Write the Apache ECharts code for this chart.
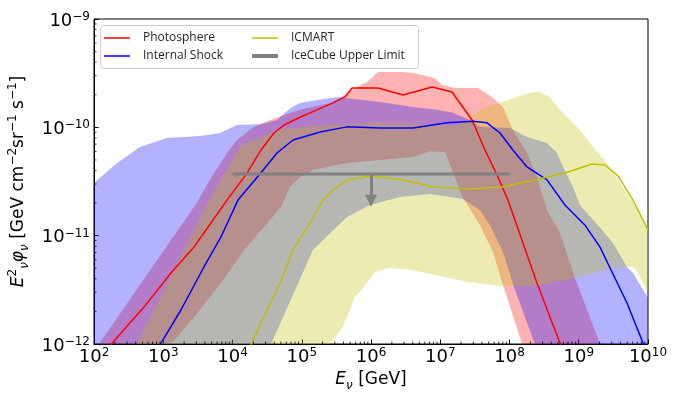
<!DOCTYPE html>
<html><head><meta charset="utf-8">
<script src="https://cdn.jsdelivr.net/npm/echarts@6/dist/echarts.min.js"></script>
<style>html,body{margin:0;padding:0;background:#fff}#c{width:675px;height:398px}</style>
</head><body><div id="c"></div>
<script>
// ---------- axis ranges / ticks ----------
const xMin = 1e2, xMax = 1e10;
const yMin = 1e-12, yMax = 1e-9;
const minorMultipliers = [2, 3, 4, 5, 6, 7, 8, 9];
const xDecades = [2, 3, 4, 5, 6, 7, 8, 9];
const yDecades = [-12, -11, -10];

// ---------- median lines [E (GeV), E^2 phi] ----------
const photosphere = [
  [1e2, 6.6e-13], [5.27e2, 2.19e-12], [1.29e3, 4.52e-12], [2.78e3, 7.85e-12],
  [8.34e3, 2.13e-11], [1.62e4, 3.78e-11], [2.58e4, 6.18e-11], [3.97e4, 8.87e-11],
  [5.55e4, 1.05e-10], [9.44e4, 1.24e-10], [1.66e5, 1.45e-10], [2.82e5, 1.68e-10],
  [4.22e5, 1.91e-10], [5.32e5, 2.31e-10], [1.26e6, 2.31e-10], [2.90e6, 1.99e-10],
  [7.60e6, 2.36e-10], [1.48e7, 2.12e-10], [2.88e7, 1.17e-10], [4.43e7, 6.18e-11],
  [6.82e7, 3.48e-11], [9.51e7, 2.13e-11], [2.49e8, 3.66e-12], [5.36e8, 1.02e-12],
  [8.53e8, 4.65e-13]
];
const internalShock = [
  [4.47e2, 4.65e-13], [9.29e2, 1.02e-12], [1.80e3, 2.06e-12], [3.87e3, 5.14e-12],
  [6.82e3, 9.73e-12], [1.20e4, 2.13e-11], [2.49e4, 3.71e-11], [4.40e4, 5.79e-11],
  [7.48e4, 7.64e-11], [1.84e5, 9.06e-11], [4.50e5, 1.01e-10], [1.35e6, 9.86e-11],
  [4.04e6, 9.86e-11], [1.25e7, 1.10e-10], [2.97e7, 1.14e-10], [4.73e7, 1.10e-10],
  [7.29e7, 8.87e-11], [1.12e8, 6.18e-11], [1.79e8, 4.31e-11], [3.48e8, 3.27e-11],
  [6.32e8, 1.92e-11], [1.23e9, 1.25e-11], [2.03e9, 7.85e-12], [3.02e9, 4.62e-12],
  [4.98e9, 2.39e-12], [8.47e9, 1.02e-12], [1e10, 7.74e-13]
];
const icmart = [
  [1.57e4, 7.74e-13], [1.91e4, 1.02e-12], [3.15e4, 2.06e-12], [4.85e4, 3.66e-12],
  [7.48e4, 7.38e-12], [1.32e5, 1.31e-11], [2.03e5, 2.13e-11], [2.82e5, 2.64e-11],
  [4.50e5, 3.27e-11], [1.03e6, 3.56e-11], [2.81e6, 3.27e-11], [8.39e6, 2.81e-11],
  [2.52e7, 2.70e-11], [7.80e7, 2.81e-11], [2.33e8, 3.27e-11], [7.00e8, 3.87e-11],
  [1.55e9, 4.59e-11], [2.39e9, 4.49e-11], [3.69e9, 3.56e-11], [6.07e9, 2.13e-11],
  [1e10, 1.13e-11]
];
const icecubeLimit = [[1e4, 3.71e-11], [1e8, 3.71e-11]];
const icecubeArrow = [[1e6, 3.71e-11], [1e6, 2.1e-11]];

// ---------- uncertainty bands ----------
const photoBandUpper = [
  [1.18e2, 1e-12], [2.97e3, 1.96e-11], [5.41e3, 3.78e-11], [8.34e3, 5.79e-11],
  [1.16e4, 7.64e-11], [2.04e4, 1.01e-10], [3.60e4, 1.17e-10], [5.55e4, 1.30e-10],
  [9.44e4, 1.45e-10], [2.56e5, 1.68e-10], [3.56e5, 1.87e-10], [4.50e5, 2.07e-10],
  [6.28e5, 2.36e-10], [8.75e5, 2.62e-10], [1.07e6, 2.92e-10], [1.26e6, 3.24e-10],
  [2.81e6, 3.24e-10], [4.04e6, 3.18e-10], [8.39e6, 2.85e-10], [1.06e7, 2.46e-10],
  [1.63e7, 2.31e-10], [3.51e7, 2.31e-10], [5.58e7, 1.91e-10], [8.05e7, 1.54e-10],
  [1.12e8, 9.44e-11], [1.79e8, 5.79e-11], [2.49e8, 3.48e-11], [3.48e8, 1.73e-11],
  [5.36e8, 1.06e-11], [8.83e8, 4.06e-12], [2.03e9, 1e-12]
];
const photoBandLower = [
  [1.29e3, 1e-12], [2.78e3, 1.77e-12], [6.82e3, 3.66e-12], [1.47e4, 7.38e-12],
  [2.85e4, 1.20e-11], [5.01e4, 1.84e-11], [6.76e4, 2.81e-11], [9.44e4, 3.48e-11],
  [1.45e5, 4.04e-11], [4.50e5, 4.69e-11], [1.35e6, 4.99e-11], [4.04e6, 5.32e-11],
  [7.11e6, 6.0e-11], [1.17e7, 5.92e-11], [2.13e7, 2.23e-11], [3.75e7, 1.25e-11],
  [5.78e7, 7.06e-12], [7.80e7, 3.73e-12], [1.52e8, 1e-12]
];
const shockBandUpper = [
  [1e2, 3.06e-11], [2.15e2, 4.69e-11], [4.61e2, 6.58e-11], [1.13e3, 7.98e-11],
  [3.40e3, 8.32e-11], [6.59e3, 8.87e-11], [1.16e4, 1.05e-10], [2.49e4, 1.07e-10],
  [4.40e4, 1.17e-10], [5.73e4, 1.36e-10], [7.23e4, 1.54e-10], [9.44e4, 1.68e-10],
  [1.66e5, 1.79e-10], [3.23e5, 1.91e-10], [7.66e5, 1.79e-10], [1.35e6, 1.71e-10],
  [4.04e6, 1.54e-10], [8.98e6, 1.45e-10], [1.53e7, 1.36e-10], [2.52e7, 1.19e-10],
  [3.75e7, 1.01e-10], [1.02e8, 9.86e-11], [1.79e8, 8.15e-11], [2.49e8, 7.64e-11],
  [3.48e8, 7.16e-11], [4.85e8, 5.79e-11], [5.93e8, 4.31e-11], [8.26e8, 2.81e-11],
  [1.04e9, 1.92e-11], [2.17e9, 1.13e-11], [3.13e9, 8.55e-12], [4.36e9, 5.96e-12],
  [4.98e9, 5.14e-12], [6.07e9, 4.52e-12], [1e10, 2.66e-12], [1e10, 1e-12]
];
const shockBandLower = [
  [1e2, 1e-12], [3.60e4, 1e-12], [5.55e4, 1.85e-12], [1.45e5, 7.38e-12],
  [4.50e5, 1.49e-11], [9.68e5, 1.92e-11], [2.62e6, 2.28e-11], [7.11e6, 2.43e-11],
  [2.13e7, 2.18e-11], [3.75e7, 1.73e-11], [5.22e7, 1.25e-11], [8.05e7, 7.06e-12],
  [1.20e8, 3.15e-12], [2.33e8, 1e-12]
];
const icmartBandUpper = [
  [4.18e2, 1e-12], [4.58e3, 2.13e-11], [1.33e4, 6.87e-11], [2.04e4, 7.64e-11],
  [5.19e4, 9.66e-11], [2.56e5, 1.05e-10], [1.35e6, 1.10e-10], [7.11e6, 1.07e-10],
  [1.63e7, 1.03e-10], [2.52e7, 1.17e-10], [3.75e7, 1.45e-10], [5.78e7, 1.61e-10],
  [8.05e7, 1.71e-10], [1.28e8, 1.91e-10], [2.18e8, 2.12e-10], [2.75e8, 2.12e-10],
  [3.85e8, 1.91e-10], [5.36e8, 1.45e-10], [7.48e8, 1.17e-10], [1.04e9, 9.44e-11],
  [1.61e9, 6.58e-11], [2.56e9, 4.69e-11], [3.94e9, 3.06e-11], [6.07e9, 2.00e-11],
  [1e10, 1.18e-11]
];
const icmartBandLower = [
  [2.56e5, 1e-12], [3.94e5, 1.44e-12], [5.87e5, 2.72e-12], [8.75e5, 3.66e-12],
  [1.14e6, 4.62e-12], [1.88e6, 5.02e-12], [3.91e6, 4.82e-12], [8.39e6, 4.34e-12],
  [2.52e7, 3.73e-12], [7.80e7, 3.43e-12], [2.33e8, 3.43e-12], [7.48e8, 3.98e-12],
  [2.17e9, 4.72e-12], [4.66e9, 5.25e-12], [6.48e9, 5.02e-12], [1e10, 3.02e-12]
];

const legendCol1 = ['Photosphere', 'Internal Shock'];
const legendCol2 = ['ICMART', 'IceCube Upper Limit'];

// ---------- helpers ----------
const FONT = 'DejaVu Sans';
function powLabel(v) {
  const e = Math.round(Math.log10(v));
  return '{b|10}{s|' + (e < 0 ? '\u2212' : '') + Math.abs(e) + '}';
}
const tickRich = {
  b: { fontFamily: FONT, fontSize: 18, lineHeight: 20, color: '#000' },
  s: { fontFamily: FONT, fontSize: 12, lineHeight: 9, verticalAlign: 'top', color: '#000' }
};
const nameRich = {
  i: { fontFamily: FONT, fontStyle: 'italic', fontSize: 17, lineHeight: 24, color: '#000' },
  n: { fontFamily: FONT, fontSize: 17, lineHeight: 24, color: '#000' },
  sup: { fontFamily: FONT, fontSize: 12, lineHeight: 12, verticalAlign: 'top', color: '#000' },
  sub: { fontFamily: FONT, fontStyle: 'italic', fontSize: 12, lineHeight: 12, verticalAlign: 'bottom', color: '#000' }
};

function bandSeries(name, upper, lower, color, z) {
  const poly = upper.concat(lower.slice().reverse());
  return {
    type: 'custom', name: name, z: z, clip: true, silent: true,
    data: [poly[0]],
    renderItem: function (params, api) {
      const pts = poly.map(function (p) { return api.coord(p); });
      return { type: 'polygon', shape: { points: pts }, style: { fill: color } };
    }
  };
}

const xMinor = [];
xDecades.forEach(function (d) { minorMultipliers.forEach(function (m) { xMinor.push([m * Math.pow(10, d), yMin]); }); });
const yMinor = [];
yDecades.forEach(function (d) { minorMultipliers.forEach(function (m) { yMinor.push([xMin, m * Math.pow(10, d)]); }); });

function minorTickSeries(data, horizontal) {
  return {
    type: 'custom', silent: true, z: 6, clip: false, data: data,
    renderItem: function (params, api) {
      const p = api.coord([api.value(0), api.value(1)]);
      const shape = horizontal
        ? { x1: p[0], y1: p[1], x2: p[0], y2: p[1] - 2.5 }
        : { x1: p[0], y1: p[1], x2: p[0] + 2.5, y2: p[1] };
      return { type: 'line', shape: shape, style: { stroke: '#000', lineWidth: 0.8 } };
    }
  };
}

function lineSeries(name, data, color, width) {
  return {
    type: 'line', name: name, data: data, z: 4, symbol: 'none', showSymbol: false,
    clip: true, silent: true, color: color,
    lineStyle: { color: color, width: width }
  };
}

const thinIcon = 'path://M0,0h52v3h-52z';
const thickIcon = 'path://M0,0h52v8h-52z';

const chart = echarts.init(document.getElementById('c'), null, { renderer: 'canvas' });
const legendCommon = {
  orient: 'vertical', top: 32, padding: 0, itemWidth: 26, itemHeight: 14, itemGap: 6,
  z: 20, selectedMode: false,
  textStyle: { fontFamily: 'Open Sans', fontSize: 12, color: '#262626', padding: [0, 0, 0, 8] }
};

const icecube = lineSeries('IceCube Upper Limit', icecubeLimit, '#808080', 3);
icecube.markLine = {
  silent: true, symbol: ['none', 'triangle'], symbolSize: 12, animation: false,
  label: { show: false },
  lineStyle: { color: '#808080', width: 3, type: 'solid' },
  data: [[{ coord: icecubeArrow[0] }, { coord: icecubeArrow[1] }]]
};

chart.setOption({
  animation: false,
  backgroundColor: '#fff',
  grid: { left: 94, right: 27, top: 19, bottom: 54, show: true, borderColor: '#000', borderWidth: 1,
          backgroundColor: '#fff', containLabel: false, outerBoundsMode: 'none' },
  legend: [
    Object.assign({}, legendCommon, { left: 104, data: [
      { name: legendCol1[0], icon: thinIcon }, { name: legendCol1[1], icon: thinIcon }] }),
    Object.assign({}, legendCommon, { left: 252, data: [
      { name: legendCol2[0], icon: thinIcon }, { name: legendCol2[1], icon: thickIcon }] })
  ],
  graphic: [{
    type: 'rect', left: 100, top: 25, z: 10, silent: true,
    shape: { width: 318, height: 43, r: 3 },
    style: { fill: 'rgba(255,255,255,0.8)', stroke: '#cccccc', lineWidth: 1 }
  }],
  xAxis: {
    type: 'log', logBase: 10, min: xMin, max: xMax,
    axisLine: { lineStyle: { color: '#000', width: 1 } },
    axisTick: { inside: true, length: 4.5, lineStyle: { color: '#000', width: 1 } },
    splitLine: { show: false },
    axisLabel: { formatter: powLabel, rich: tickRich, margin: 3, color: '#000' },
    name: '{i|E}{sub|\u03bd}{n| [GeV]}',
    nameLocation: 'middle', nameGap: 22,
    nameTextStyle: { rich: nameRich }
  },
  yAxis: {
    type: 'log', logBase: 10, min: yMin, max: yMax,
    axisLine: { lineStyle: { color: '#000', width: 1 } },
    axisTick: { inside: true, length: 4.5, lineStyle: { color: '#000', width: 1 } },
    splitLine: { show: false },
    axisLabel: { formatter: powLabel, rich: tickRich, margin: 4, color: '#000', padding: [4, 0, 0, 0] },
    name: '{i|E}{sup|2}{sub|\u03bd}{i|\u03c6}{sub|\u03bd}{n| [GeV cm}{sup|\u22122}{n|sr}{sup|\u22121}{n| s}{sup|\u22121}{n|]}',
    nameLocation: 'middle', nameGap: 58,
    nameTextStyle: { rich: nameRich }
  },
  series: [
    bandSeries('photoBand', photoBandUpper, photoBandLower, 'rgba(255,0,0,0.3)', 1),
    bandSeries('shockBand', shockBandUpper, shockBandLower, 'rgba(0,0,255,0.3)', 1),
    bandSeries('icmartBand', icmartBandUpper, icmartBandLower, 'rgba(191,191,0,0.3)', 1),
    lineSeries('Photosphere', photosphere, '#ff0000', 1.5),
    lineSeries('Internal Shock', internalShock, '#0000ff', 1.5),
    lineSeries('ICMART', icmart, '#bfbf00', 1.5),
    icecube,
    minorTickSeries(xMinor, true),
    minorTickSeries(yMinor, false)
  ]
});
</script>
</body></html>
